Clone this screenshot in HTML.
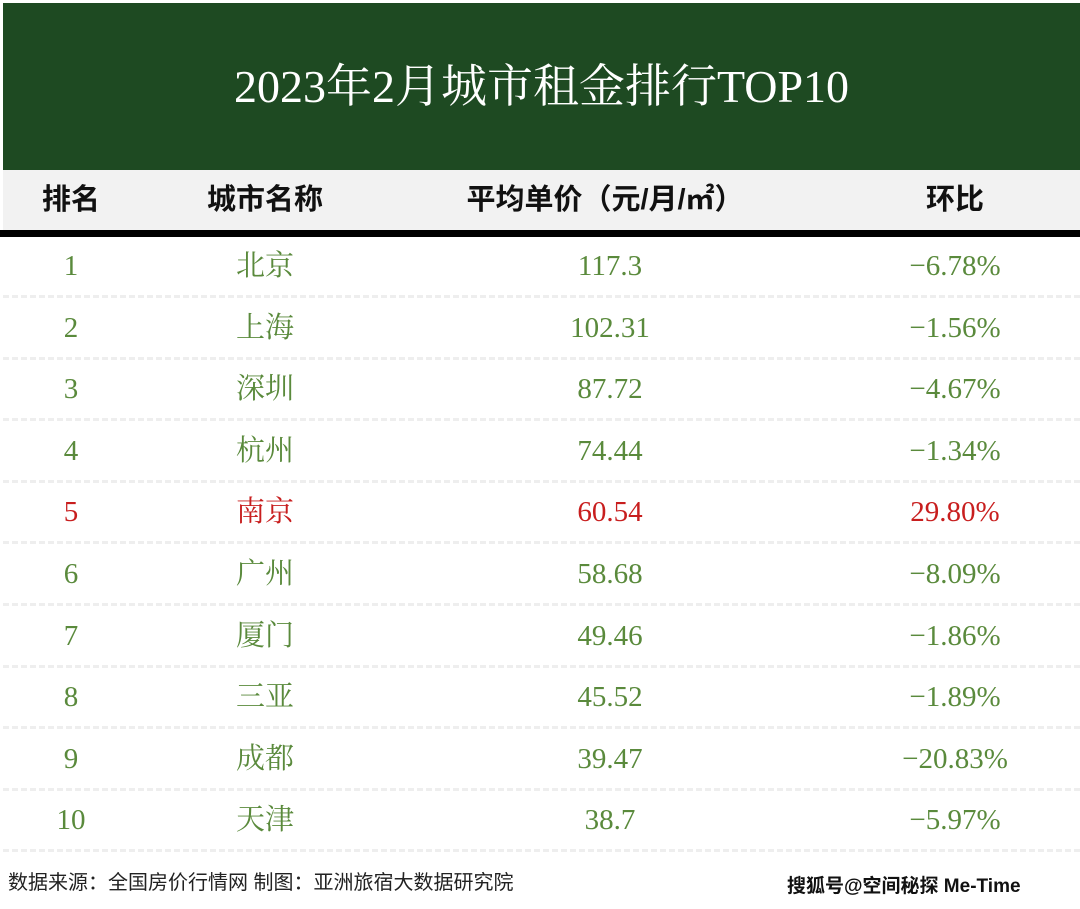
<!DOCTYPE html>
<html><head><meta charset="utf-8">
<style>
body{margin:0;width:1080px;height:909px;background:#fff;position:relative;overflow:hidden;font-family:"Liberation Serif","Noto Serif CJK SC",serif;}
#title{position:absolute;left:3px;top:3px;width:1077px;height:167px;background:#1e4a22;color:#fff;font-size:46px;line-height:167px;text-align:center;}
#head{position:absolute;left:3px;top:170px;width:1077px;height:60px;background:#f2f2f2;border-bottom:1px solid #999;font-family:"Liberation Sans","Noto Sans CJK SC",sans-serif;font-weight:bold;font-size:29px;color:#111;}
#bar{position:absolute;left:0;top:230px;width:1080px;height:7px;background:#000;}
.c{position:absolute;transform:translateX(-50%);white-space:nowrap;}
#head .c{top:0;line-height:60px;}
.row{position:absolute;left:0;width:1080px;height:61.6px;font-size:29px;color:#5a8a3c;}
.row .c{line-height:58px;top:0}
.row.red{color:#c81e1e}
.dash{position:absolute;left:3px;width:1077px;height:0;border-top:3px dashed #eee;top:58px}
#foot{position:absolute;left:8px;top:866px;font-family:"Liberation Sans","Noto Sans CJK SC",sans-serif;font-size:20px;color:#222;}
#wm{position:absolute;left:787px;top:871px;font-family:"Liberation Sans","Noto Sans CJK SC",sans-serif;font-size:19px;color:#111;font-weight:bold;}
</style></head><body>
<div id="title">2023年2月城市租金排行TOP10</div>
<div id="head">
<span class="c" style="left:68px">排名</span>
<span class="c" style="left:262px">城市名称</span>
<span class="c" style="left:602px">平均单价（元/月/㎡）</span>
<span class="c" style="left:952px">环比</span>
</div>
<div id="bar"></div>
<div id="rows"></div>
<div id="foot">数据来源：全国房价行情网 制图：亚洲旅宿大数据研究院</div>
<div id="wm">搜狐号@空间秘探 Me-Time</div>
<script>
const ranks=["1","2","3","4","5","6","7","8","9","10"];
const cities=["北京","上海","深圳","杭州","南京","广州","厦门","三亚","成都","天津"];
const prices=["117.3","102.31","87.72","74.44","60.54","58.68","49.46","45.52","39.47","38.7"];
const changes=["−6.78%","−1.56%","−4.67%","−1.34%","29.80%","−8.09%","−1.86%","−1.89%","−20.83%","−5.97%"];
const highlight=4;
const wrap=document.getElementById('rows');
ranks.forEach((r,i)=>{
  const row=document.createElement('div');
  
  
  row.className='row'+(i===highlight?' red':'');
  row.style.top=(237+i*61.6)+'px';
  const vals=[r,cities[i],prices[i],changes[i]];
  const xs=[71,265,610,955];
  const names=['rank-cell','city-cell','price-cell','change-cell'];
  vals.forEach((v,j)=>{
    const s=document.createElement('span');
    
    
    s.className='c';s.style.left=xs[j]+'px';s.textContent=v;row.appendChild(s);
  });
  const d=document.createElement('div');
  
  
  d.className='dash';row.appendChild(d);
  wrap.appendChild(row);
});
</script>
</body></html>
